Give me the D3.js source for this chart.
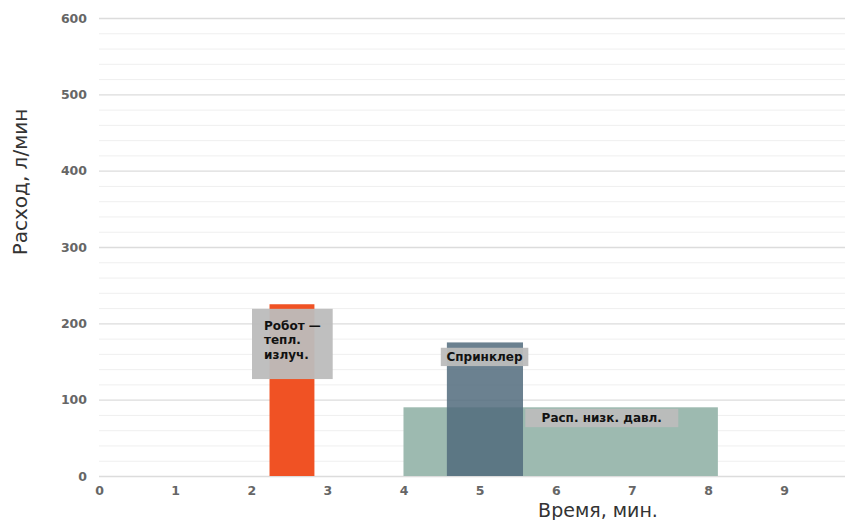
<!DOCTYPE html>
<html>
<head>
<meta charset="utf-8">
<script src="https://cdn.jsdelivr.net/npm/d3@7"></script>
<style>
  html, body { margin: 0; padding: 0; background: #fff; }
  svg { display: block; }
</style>
</head>
<body>
<svg id="chart" width="846" height="520"></svg>
<script>
// Water flow of three extinguishing systems over time
const systems = ["Распылители низкого давления", "Спринклер", "Робот — тепл. излуч."];
const startMin = [4.0, 4.57, 2.24];
const endMin   = [8.13, 5.57, 2.83];
const flowLpm  = [90, 175, 225];
const fills    = ["#9dbab0", "#516b7c", "#f05224"];
const opacities = [1, 0.85, 1];

// Annotation boxes: [x0, x1] in minutes, [y0, y1] in l/min, and their text lines
const noteText  = [["Робот —", "тепл.", "излуч."], ["Спринклер"], ["Расп. низк. давл."]];
const noteX0    = [2.01, 4.49, 5.6];
const noteX1    = [3.07, 5.64, 7.61];
const noteYTop  = [219, 168, 88];
const noteYBot  = [127, 144, 64];

const xTicks = [0, 1, 2, 3, 4, 5, 6, 7, 8, 9];
const yTicks = [0, 100, 200, 300, 400, 500, 600];
const yMinor = d3.range(0, 601, 20);

const svg = d3.select("#chart");
const m = { left: 99, right: 1, top: 18, bottom: 44 };
const W = 846, H = 520;

const x = d3.scaleLinear().domain([0, 9.8]).range([m.left, W - m.right]);
const y = d3.scaleLinear().domain([0, 600]).range([H - m.bottom, m.top]);

// minor gridlines
svg.append("g").selectAll("line").data(yMinor.filter(v => v % 100 !== 0)).join("line")
  .attr("x1", x(0)).attr("x2", W - m.right)
  .attr("y1", d => y(d) + 0.5).attr("y2", d => y(d) + 0.5)
  .attr("stroke", "#efefef").attr("stroke-width", 1);

// major gridlines + y tick labels
const yAxis = d3.axisLeft(y).tickValues(yTicks).tickSize(-(W - m.right - m.left)).tickPadding(12);
const gy = svg.append("g").attr("transform", `translate(${m.left},0)`).call(yAxis);
gy.select(".domain").remove();
gy.selectAll(".tick line").attr("stroke", "#dcdcdc").attr("stroke-width", 1.3);
gy.selectAll(".tick text")
  .attr("fill", "#666").attr("font-family", "DejaVu Sans, Verdana, sans-serif")
  .attr("font-weight", "bold").attr("font-size", 12.5);

// bars
svg.append("g").selectAll("rect").data(systems).join("rect")
  .attr("x", (d, i) => x(startMin[i]))
  .attr("width", (d, i) => x(endMin[i]) - x(startMin[i]))
  .attr("y", (d, i) => y(flowLpm[i]))
  .attr("height", (d, i) => y(0) - y(flowLpm[i]))
  .attr("fill", (d, i) => fills[i])
  .attr("fill-opacity", (d, i) => opacities[i]);

// x axis labels
const xAxis = d3.axisBottom(x).tickValues(xTicks).tickSize(0).tickPadding(10);
const gx = svg.append("g").attr("transform", `translate(0,${y(0)})`).call(xAxis);
gx.select(".domain").remove();
gx.selectAll(".tick text")
  .attr("fill", "#666").attr("font-family", "DejaVu Sans, Verdana, sans-serif")
  .attr("font-weight", "bold").attr("font-size", 12.5);

// annotation boxes
const notes = svg.append("g").selectAll("g").data(noteText).join("g");
notes.append("rect")
  .attr("x", (d, i) => x(noteX0[i]))
  .attr("width", (d, i) => x(noteX1[i]) - x(noteX0[i]))
  .attr("y", (d, i) => y(noteYTop[i]))
  .attr("height", (d, i) => y(noteYBot[i]) - y(noteYTop[i]))
  .attr("fill", "#bcbcbc").attr("fill-opacity", 0.95);
notes.each(function (lines, i) {
  const g = d3.select(this);
  const multi = lines.length > 1;
  const x0 = x(noteX0[i]), x1 = x(noteX1[i]);
  const yt = y(noteYTop[i]), yb = y(noteYBot[i]);
  const t = g.append("text")
    .attr("font-family", "DejaVu Sans, Verdana, sans-serif")
    .attr("font-weight", "bold").attr("font-size", 12).attr("fill", "#111");
  if (multi) {
    lines.forEach((s, k) => {
      t.append("tspan").attr("x", x0 + 12).attr("y", yt + 21 + k * 14.5).text(s);
    });
  } else {
    t.attr("x", (x0 + x1) / 2).attr("y", (yt + yb) / 2 + 4.5)
      .attr("text-anchor", "middle").text(lines[0]);
  }
});

// axis titles
svg.append("text")
  .attr("x", 598).attr("y", 517).attr("text-anchor", "middle")
  .attr("font-family", "DejaVu Sans, Verdana, sans-serif").attr("font-size", 19)
  .attr("fill", "#333").text("Время, мин.");
svg.append("text")
  .attr("transform", "translate(27,182) rotate(-90)").attr("text-anchor", "middle")
  .attr("font-family", "DejaVu Sans, Verdana, sans-serif").attr("font-size", 20)
  .attr("fill", "#333").text("Расход, л/мин");
</script>
</body>
</html>
